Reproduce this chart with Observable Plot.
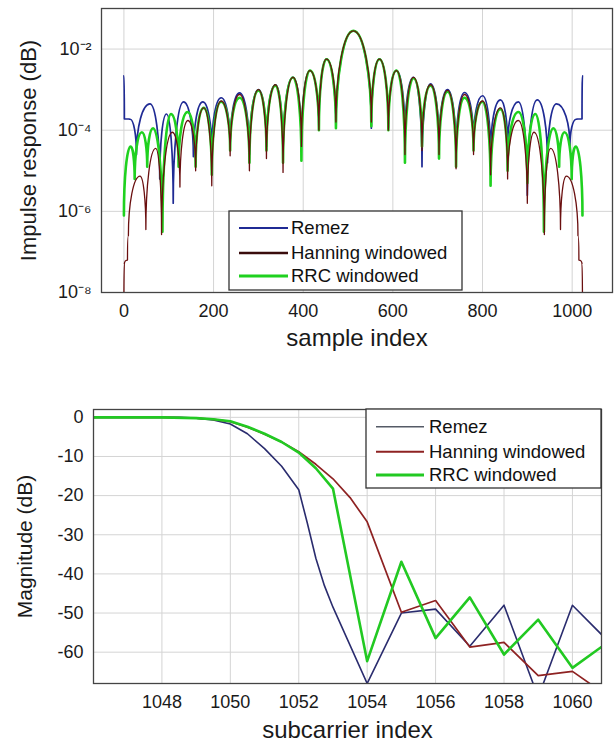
<!DOCTYPE html>
<html>
<head>
<meta charset="utf-8">
<script src="https://cdn.jsdelivr.net/npm/d3@7"></script>
<script src="https://cdn.jsdelivr.net/npm/@observablehq/plot@0.6"></script>
<style>
  html, body { margin: 0; padding: 0; background: #fff; }
  #chart svg { display: block; }
</style>
</head>
<body>
<div id="chart"></div>
<script>
// ---------- DATA ----------
const seriesNames = ["Remez", "Hanning windowed", "RRC windowed"];

// Top panel: impulse response, sample index vs log10 magnitude (peaks and nulls)
const remezIdx = [0,1,14,28,58,80,95,110,133,155,176,196,217,237,258,280,300,318,338,355,377,396,415,435,452,473,512,552,570,590,608,627,646,665,684,703,722,741,760,780,800,818,840,856,880,900,922,945,965,995,1009,1022,1023];
const remezLog = [-2.66,-3.72,-3.73,-4.6,-3.35,-5.2,-3.6,-5.8,-3.3,-4.65,-3.3,-4.5,-3.2,-4.4,-3.08,-4.6,-3.0,-4.4,-2.88,-4.6,-2.7,-4.4,-2.53,-4.0,-2.25,-3.95,-1.55,-3.95,-2.25,-3.95,-2.53,-4.2,-2.7,-4.9,-2.86,-4.4,-3.0,-4.6,-3.07,-4.3,-3.15,-4.6,-3.25,-4.4,-3.3,-5.6,-3.25,-4.8,-3.35,-4.4,-3.73,-3.72,-2.66];

const hannIdx = [0,1,8,10,36,49,71,84,108,125,143,160,178,196,217,237,258,280,300,318,338,355,377,396,415,435,452,473,512,552,570,590,608,627,646,665,684,703,722,741,760,780,800,818,840,856,880,900,915,938,952,974,987,1013,1015,1022,1023];
const hannLog = [-8.3,-7.3,-7.2,-6.6,-5.13,-6.45,-4.45,-6.57,-4.05,-5.4,-3.76,-5.0,-3.45,-5.37,-3.28,-4.63,-3.12,-5.0,-3.0,-4.7,-2.88,-5.04,-2.7,-4.4,-2.53,-4.0,-2.25,-3.8,-1.55,-3.8,-2.25,-4.0,-2.53,-4.6,-2.7,-4.5,-2.88,-4.6,-3.02,-4.95,-3.12,-4.6,-3.28,-5.1,-3.45,-5.2,-3.76,-5.8,-4.05,-6.57,-4.45,-6.45,-5.13,-6.6,-7.2,-7.3,-8.3];

const rrcIdx = [0,15,24,40,52,65,86,105,122,142,160,178,196,217,237,258,280,300,318,338,355,377,396,415,435,452,473,512,552,570,590,608,627,646,665,684,703,722,741,760,780,800,818,840,856,880,900,918,937,958,971,983,999,1008,1023];
const rrcLog = [-6.1,-4.4,-5.2,-4.05,-4.9,-3.95,-6.5,-3.6,-4.9,-3.55,-4.9,-3.45,-5.1,-3.3,-4.5,-3.2,-4.8,-3.02,-4.5,-2.9,-4.8,-2.7,-4.75,-2.53,-4.0,-2.25,-3.95,-1.55,-3.9,-2.25,-4.0,-2.53,-4.8,-2.72,-4.4,-2.9,-4.7,-3.05,-4.9,-3.2,-4.5,-3.3,-5.37,-3.48,-5.0,-3.55,-5.3,-3.6,-6.5,-3.95,-4.9,-4.05,-5.2,-4.4,-6.1];

const sampleTicks = [0, 200, 400, 600, 800, 1000];
const impulseTicks = [1e-8, 1e-6, 1e-4, 1e-2];
const impulseTickLabels = ["10\u207B\u2078", "10\u207B\u2076", "10\u207B\u2074", "10\u207B\u00B2"];

// Bottom panel: magnitude (dB) vs subcarrier index
const remezSc = [1046,1047,1048,1048.5,1049,1049.5,1050,1050.5,1051,1051.5,1052,1052.25,1052.5,1052.75,1053,1054,1055,1056,1057,1058,1059,1060,1061];
const remezDb = [0,0,0,0,-0.2,-0.7,-1.7,-4.2,-8,-12.5,-18.5,-27,-36,-43,-48.5,-68,-50,-49,-58.5,-48,-71.5,-48,-56.8];

const hannSc = [1046,1047,1048,1049,1049.5,1050,1050.5,1051,1051.5,1052,1052.5,1053,1053.5,1054,1055,1056,1057,1058,1059,1060,1061];
const hannDb = [0,0,0,-0.2,-0.5,-1.1,-2.5,-4.3,-6.3,-8.8,-12,-15.7,-20.5,-26.7,-49.8,-46.8,-58.7,-57.5,-66,-64.9,-71];

const rrcSc = [1046,1047,1048,1049,1049.5,1050,1050.5,1051,1051.5,1052,1052.5,1053,1054,1055,1056,1057,1058,1059,1060,1061];
const rrcDb = [0,0,0,-0.2,-0.5,-1.0,-2.4,-4.2,-6.3,-9,-13,-18.2,-62.3,-36.9,-56.4,-46,-60.6,-51.7,-64,-57.7];

const subTicks = [1048, 1050, 1052, 1054, 1056, 1058, 1060];
const magTicks = [0, -10, -20, -30, -40, -50, -60];

// ---------- build tables ----------
const toRows = (xs, ls) => xs.map((s, i) => ({s, v: Math.pow(10, ls[i])}));
const remezImp = toRows(remezIdx, remezLog);
const hannImp = toRows(hannIdx, hannLog);
const rrcImp = toRows(rrcIdx, rrcLog);
const toMag = (xs, ds) => xs.map((s, i) => ({s, d: ds[i]}));
const remezMag = toMag(remezSc, remezDb);
const hannMag = toMag(hannSc, hannDb);
const rrcMag = toMag(rrcSc, rrcDb);

const FONT = "'Liberation Sans', Arial, Helvetica, sans-serif";
const GRID = "#d4d4d4";

// dome-shaped interpolation: round tops, sharp nulls
function domeCurve(context) {
  let x0, y0, n = 0;
  const k = 0.55;
  return {
    areaStart() {}, areaEnd() {},
    lineStart() { n = 0; },
    lineEnd() {},
    point(x, y) {
      x = +x; y = +y;
      if (n === 0) context.moveTo(x, y);
      else if (y < y0) {
        context.bezierCurveTo(x0, y0 + k * (y - y0), x + k * (x0 - x), y, x, y);
      } else {
        context.bezierCurveTo(x0 + k * (x - x0), y0, x, y + k * (y0 - y), x, y);
      }
      x0 = x; y0 = y; n++;
    }
  };
}

const impLabel = new Map(impulseTicks.map((t, i) => [t, impulseTickLabels[i]]));

// ---------- top panel ----------
const topPlot = Plot.plot({
  width: 614, height: 360,
  marginTop: 8, marginBottom: 68, marginLeft: 101, marginRight: 2,
  style: {fontFamily: FONT, fontSize: "18px", color: "#1a1a1a", background: "#fff"},
  x: {domain: [-50, 1090]},
  y: {type: "log", domain: [1e-8, 1e-1]},
  marks: [
    Plot.gridX(sampleTicks, {stroke: GRID, strokeOpacity: 1}),
    Plot.gridY(impulseTicks, {stroke: GRID, strokeOpacity: 1}),
    Plot.line(remezImp, {x: "s", y: "v", stroke: "#1f2a94", strokeWidth: 1.7, curve: domeCurve, clip: true}),
    Plot.line(rrcImp, {x: "s", y: "v", stroke: "#1fd11f", strokeWidth: 2.6, curve: domeCurve, clip: true}),
    Plot.line(hannImp, {x: "s", y: "v", stroke: "#6a0f0f", strokeWidth: 1.3, curve: domeCurve, clip: true}),
    Plot.frame({stroke: "#444", strokeWidth: 1.3}),
    Plot.axisX(sampleTicks, {tickSize: 0, tickPadding: 12, label: null, tickFormat: d => String(d)}),
    Plot.axisY(impulseTicks, {tickSize: 0, tickPadding: 10, label: null, tickFormat: d => impLabel.get(d)}),
    Plot.text(["sample index"], {frameAnchor: "bottom", dy: 53, text: d => d, fontSize: 24, textAnchor: "middle"}),
    Plot.text(["Impulse response (dB)"], {frameAnchor: "left", dx: -73, rotate: -90, text: d => d, fontSize: 22, textAnchor: "middle"})
  ]
});

// ---------- bottom panel ----------
const botPlot = Plot.plot({
  width: 614, height: 384,
  marginTop: 49, marginBottom: 61, marginLeft: 93, marginRight: 13,
  style: {fontFamily: FONT, fontSize: "18px", color: "#1a1a1a", background: "#fff"},
  x: {domain: [1046, 1060.85]},
  y: {domain: [-68, 2]},
  marks: [
    Plot.gridX(subTicks, {stroke: GRID, strokeOpacity: 1}),
    Plot.gridY(magTicks, {stroke: GRID, strokeOpacity: 1}),
    Plot.line(remezMag, {x: "s", y: "d", stroke: "#2a2c6e", strokeWidth: 1.6, clip: true}),
    Plot.line(hannMag, {x: "s", y: "d", stroke: "#8e2222", strokeWidth: 1.7, clip: true}),
    Plot.line(rrcMag, {x: "s", y: "d", stroke: "#22c922", strokeWidth: 2.6, clip: true}),
    Plot.frame({stroke: "#444", strokeWidth: 1.3}),
    Plot.axisX(subTicks, {tickSize: 0, tickPadding: 12, label: null, tickFormat: d => String(d)}),
    Plot.axisY(magTicks, {tickSize: 0, tickPadding: 10, label: null, tickFormat: d => String(d)}),
    Plot.text(["subcarrier index"], {frameAnchor: "bottom", dy: 54, text: d => d, fontSize: 24, textAnchor: "middle"}),
    Plot.text(["Magnitude (dB)"], {frameAnchor: "left", dx: -68, rotate: -90, text: d => d, fontSize: 21, textAnchor: "middle"})
  ]
});

// ---------- legends ----------
function legend(svg, box, rows, lineX, textX, styles) {
  const g = d3.select(svg).append("g")
    .attr("font-family", FONT).attr("font-size", 18.5).attr("text-anchor", "start");
  g.append("rect").attr("x", box[0]).attr("y", box[1]).attr("width", box[2]).attr("height", box[3])
    .attr("fill", "#fff").attr("stroke", "#333").attr("stroke-width", 1.3);
  seriesNames.forEach((name, i) => {
    g.append("line").attr("x1", lineX[0]).attr("x2", lineX[1]).attr("y1", rows[i]).attr("y2", rows[i])
      .attr("stroke", styles[i][0]).attr("stroke-width", styles[i][1]);
    g.append("text").attr("x", textX).attr("y", rows[i]).attr("dy", "0.35em")
      .attr("text-anchor", "start").attr("fill", "#111").text(name);
  });
}
legend(topPlot, [229, 211, 233, 79], [228, 253, 276], [239, 288], 291,
  [["#1f2a94", 2.2], ["#3a0c0c", 2.6], ["#1fd11f", 3.2]]);
legend(botPlot, [366, 49, 235, 79], [66.7, 91.7, 115], [376, 424], 429,
  [["#555a66", 1.4], ["#8e2222", 2], ["#22c922", 3]]);

document.getElementById("chart").append(topPlot, botPlot);
</script>
</body>
</html>
